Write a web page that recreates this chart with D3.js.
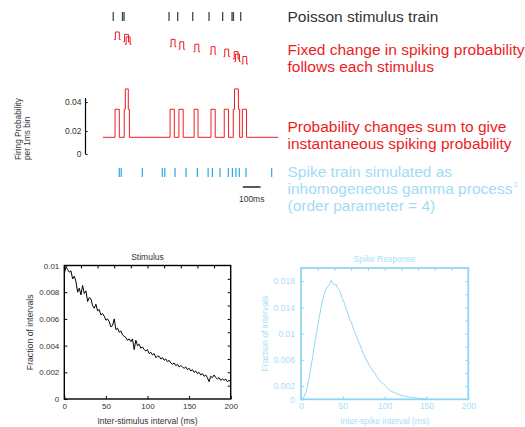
<!DOCTYPE html>
<html>
<head>
<meta charset="utf-8">
<script src="https://cdn.jsdelivr.net/npm/d3@7/dist/d3.min.js"></script>
<style>
  body { margin: 0; background: #fff; }
  svg { display: block; font-family: "Liberation Sans", Arial, sans-serif; }
</style>
</head>
<body>
<div id="chart"></div>
<script>
// ---- data (times in ms) ----
const stimTimes = [58, 110, 119, 373, 422, 507, 599, 676, 729, 737, 778];
const kernelT = [5, 12, 34, 41]; // foot, rise, fall, foot (ms after each stimulus)
const traceT = [0, 68, 92, 120, 126, 143, 149, 379, 403, 429, 453, 515, 537, 610, 634, 685, 709, 736, 743, 765, 772, 787, 811, 990];
const traceP = [0.0145, 0.035, 0.0145, 0.035, 0.049, 0.035, 0.0145, 0.035, 0.0145, 0.035, 0.0145, 0.035, 0.0145,
  0.035, 0.0145, 0.035, 0.0145, 0.035, 0.049, 0.035, 0.0145, 0.035, 0.0145, 0.0145];
const spikeTimes = [92, 103, 222, 335, 349, 407, 469, 533, 594, 618, 661, 708, 731, 751, 770, 808, 953];
const probTicks = [0, 0.02, 0.04];
const scaleBarMs = 100;

// inter-stimulus interval histogram, 2 ms bins from 0 to 200
const stimFrac = [
  0.0094, 0.0099, 0.0097, 0.0095, 0.0096, 0.0090, 0.0092, 0.0088, 0.0080, 0.0083,
  0.0078, 0.0085, 0.0079, 0.0081, 0.0073, 0.0076, 0.0075, 0.0070, 0.0068, 0.0071,
  0.0066, 0.0067, 0.0063, 0.0064, 0.0062, 0.0059, 0.0060, 0.0058, 0.0054, 0.0055,
  0.0060, 0.0052, 0.0053, 0.0050, 0.0051, 0.0048, 0.0047, 0.0046, 0.0044, 0.0045,
  0.0043, 0.0045, 0.0037, 0.0044, 0.0040, 0.0041, 0.0038, 0.0039, 0.0037, 0.0036,
  0.0037, 0.0034, 0.0035, 0.0033, 0.0034, 0.0031, 0.0032, 0.0032, 0.0030, 0.0031,
  0.0029, 0.0030, 0.0028, 0.0029, 0.0027, 0.0026, 0.0027, 0.0025, 0.0026, 0.0024,
  0.0025, 0.0024, 0.0023, 0.0024, 0.0022, 0.0023, 0.0021, 0.0022, 0.0020, 0.0021,
  0.0019, 0.0020, 0.0018, 0.0019, 0.0017, 0.0018, 0.0016, 0.0013, 0.0017, 0.0016,
  0.0018, 0.0016, 0.0015, 0.0016, 0.0014, 0.0015, 0.0014, 0.0015, 0.0013, 0.0014,
  0.0013];
// inter-spike interval histogram, 2 ms bins from 0 to 152
const spikeFrac = [
  0, 0, 0.0005, 0.0011, 0.0022, 0.0034, 0.0050, 0.0065, 0.0082, 0.0097,
  0.0112, 0.0126, 0.0140, 0.0152, 0.0161, 0.0168, 0.0172, 0.0175, 0.0181, 0.0177,
  0.0174, 0.0175, 0.0169, 0.0166, 0.0159, 0.0152, 0.0146, 0.0137, 0.0131, 0.0122,
  0.0118, 0.0110, 0.0103, 0.0097, 0.0090, 0.0084, 0.0078, 0.0071, 0.0066, 0.0060,
  0.0056, 0.0051, 0.0047, 0.0043, 0.0040, 0.0036, 0.0032, 0.0029, 0.0026, 0.0024,
  0.0022, 0.0019, 0.0016, 0.0014, 0.0012, 0.0011, 0.0010, 0.0009, 0.0008, 0.0007,
  0.0006, 0.0006, 0.0005, 0.0004, 0.0004, 0.0003, 0.0003, 0.0003, 0.0002, 0.0002,
  0.0002, 0.0001, 0.0001, 0.0001, 0.0001, 0.0001, 0];
const isiXTicks = [0, 50, 100, 150, 200];
const stimYTicks = [0, 0.002, 0.004, 0.006, 0.008, 0.01];
const spikeYTicks = [0, 0.002, 0.006, 0.01, 0.014, 0.018];

const RED = "#ec1c24", CYAN = "#29abe2", PALE = "#a2dbf6", DARK = "#333";

const svg = d3.select("#chart").append("svg").attr("width", 525).attr("height", 427);

// ---- top schematic ----
const t = d3.scaleLinear().domain([0, 1000]).range([103, 280]);
const p = d3.scaleLinear().domain([0, 0.02, 0.04]).range([154, 131, 102]);

svg.append("g").selectAll("line").data(stimTimes).join("line")
  .attr("x1", d => t(d)).attr("x2", d => t(d)).attr("y1", 12).attr("y2", 21)
  .attr("stroke", "#444").attr("stroke-width", 1.3);

// one kernel per stimulus, stacked downward
svg.append("g").selectAll("path").data(stimTimes).join("path")
  .attr("d", (d, i) => {
    const yb = 39.5 + i * 2.45, yt = yb - 7.5;
    return `M${t(d + kernelT[0])},${yb}H${t(d + kernelT[1])}V${yt}H${t(d + kernelT[2])}V${yb}H${t(d + kernelT[3])}`;
  })
  .attr("fill", "none").attr("stroke", RED).attr("stroke-width", 1);

const trace = traceT.map((d, i) => [d, traceP[i]]);
svg.append("path").datum(trace)
  .attr("d", d3.line().x(d => t(d[0])).y(d => p(d[1])).curve(d3.curveStepAfter))
  .attr("fill", "none").attr("stroke", RED).attr("stroke-width", 1);

const pAxis = svg.append("g").attr("transform", "translate(85.5,0)")
  .call(d3.axisLeft(p).tickValues(probTicks).tickSize(-2).tickPadding(4).tickFormat(d => String(d)));
pAxis.select(".domain").remove();
pAxis.append("line").attr("y1", p(0)).attr("y2", 98).attr("stroke", "#000").attr("stroke-width", 1.2);
pAxis.selectAll("text").attr("font-size", 8.5).attr("fill", DARK).attr("font-family", null);
pAxis.selectAll(".tick line").attr("stroke", "#000");

const pl = svg.append("text").attr("transform", "translate(21,160) rotate(-90)")
  .attr("font-size", 8.3).attr("fill", DARK);
pl.append("tspan").attr("x", 0).attr("dy", 0).text("Firing Probability");
pl.append("tspan").attr("x", 0).attr("dy", 8.5).text("per 1ms bin");

svg.append("g").selectAll("line").data(spikeTimes).join("line")
  .attr("x1", d => t(d)).attr("x2", d => t(d)).attr("y1", 168).attr("y2", 177)
  .attr("stroke", CYAN).attr("stroke-width", 1.2);

const sbX = 790;
svg.append("line").attr("x1", t(sbX)).attr("x2", t(sbX + scaleBarMs)).attr("y1", 187).attr("y2", 187)
  .attr("stroke", "#000").attr("stroke-width", 1.3);
svg.append("text").attr("x", t(sbX + scaleBarMs / 2)).attr("y", 202).attr("text-anchor", "middle")
  .attr("font-size", 8.5).attr("fill", DARK).text(scaleBarMs + "ms");

// ---- captions ----
const caps = [
  { y: 21.7, c: DARK, t: "Poisson stimulus train" },
  { y: 55, c: RED, t: "Fixed change in spiking probability" },
  { y: 72, c: RED, t: "follows each stimulus" },
  { y: 131.7, c: RED, t: "Probability changes sum to give" },
  { y: 149, c: RED, t: "instantaneous spiking probability" },
  { y: 176.5, c: PALE, t: "Spike train simulated as" },
  { y: 193.5, c: PALE, t: "inhomogeneous gamma process" },
  { y: 210.5, c: PALE, t: "(order parameter = 4)" }
];
svg.append("g").selectAll("text").data(caps).join("text")
  .attr("x", 287.5).attr("y", d => d.y).attr("fill", d => d.c).attr("font-size", 15.5)
  .text(d => d.t);
svg.append("text").attr("x", 514).attr("y", 186.5).attr("fill", PALE).attr("font-size", 7).text("2");

// ---- ISI histograms ----
function isiPanel(o) {
  const x = d3.scaleLinear().domain([0, 200]).range([o.left, o.right]);
  const y = d3.scaleLinear().domain([0, o.yMax]).range([o.bottom, o.top]);
  const g = svg.append("g");
  const style = a => {
    a.select(".domain").remove();
    a.selectAll(".tick line").attr("stroke", o.frame);
    a.selectAll("text").attr("font-family", null).attr("font-size", o.tickFont).attr("fill", o.text);
  };
  g.append("g").attr("transform", `translate(0,${o.bottom})`)
    .call(d3.axisBottom(x).tickValues(isiXTicks).tickSize(-3).tickPadding(4)).call(style);
  g.append("g").attr("transform", `translate(0,${o.top})`)
    .call(d3.axisTop(x).tickValues(d3.range(20, 200, 20)).tickSize(-3).tickFormat("")).call(style);
  g.append("g").attr("transform", `translate(${o.left},0)`)
    .call(d3.axisLeft(y).tickValues(o.yTicks).tickSize(-3).tickPadding(o.yPad).tickFormat(d => String(d))).call(style);
  g.append("g").attr("transform", `translate(${o.right},0)`)
    .call(d3.axisRight(y).tickValues(o.yMinor).tickSize(-3).tickFormat("")).call(style);

  g.append("path").datum(o.values)
    .attr("d", d3.line().x((d, i) => x(i * 2)).y(d => y(d)))
    .attr("fill", "none").attr("stroke", o.line).attr("stroke-width", 1);

  g.append("rect").attr("x", o.left).attr("y", o.top)
    .attr("width", o.right - o.left).attr("height", o.bottom - o.top)
    .attr("fill", "none").attr("stroke", o.frame).attr("stroke-width", o.frameW);

  const cx = (o.left + o.right) / 2;
  g.append("text").attr("x", cx).attr("y", o.top - 6).attr("text-anchor", "middle")
    .attr("font-size", 8.5).attr("fill", o.text).text(o.title);
  g.append("text").attr("x", cx).attr("y", 424).attr("text-anchor", "middle")
    .attr("font-size", 8.5).attr("fill", o.text).text(o.xTitle);
  g.append("text").attr("transform", `translate(${o.yTitleX},${(o.top + o.bottom) / 2}) rotate(-90)`)
    .attr("text-anchor", "middle").attr("font-size", 8.7).attr("fill", o.text).text("Fraction of intervals");
}

isiPanel({
  left: 64.3, right: 230.7, top: 265.5, bottom: 399, yMax: 0.01,
  values: stimFrac, yTicks: stimYTicks, yMinor: d3.range(0.001, 0.0095, 0.001),
  line: "#000", frame: "#000", frameW: 1.4, text: DARK,
  tickFont: 8, yPad: 5, yTitleX: 33,
  title: "Stimulus", xTitle: "Inter-stimulus interval (ms)"
});
isiPanel({
  left: 301, right: 468.3, top: 268, bottom: 399.3, yMax: 0.02,
  values: spikeFrac, yTicks: spikeYTicks, yMinor: d3.range(0.002, 0.0195, 0.002),
  line: "#8fd6f5", frame: "#8fd6f5", frameW: 1.8, text: "#a9def7",
  tickFont: 8.5, yPad: 6, yTitleX: 268,
  title: "Spike Response", xTitle: "Inter-spike interval (ms)"
});
</script>
</body>
</html>
